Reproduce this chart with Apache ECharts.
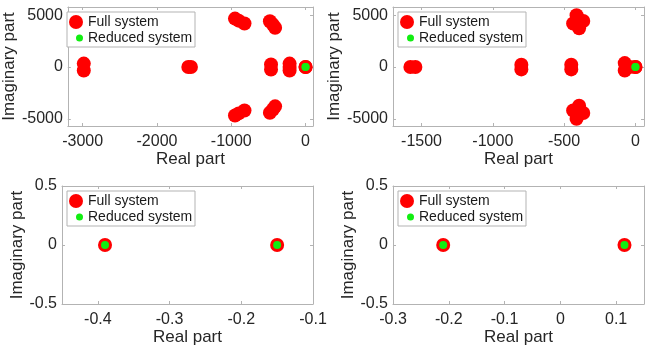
<!DOCTYPE html>
<html>
<head>
<meta charset="utf-8">
<script src="https://cdn.jsdelivr.net/npm/echarts@6/dist/echarts.min.js"></script>
<style>
html, body { margin: 0; padding: 0; background: #fff; }
#chart { width: 646px; height: 350px; }
</style>
</head>
<body>
<div id="chart"></div>
<script>
// poles, [real, imag]
var fullA = [
  [-2985, 330], [-2985, -330],
  [-1578, 0], [-1543, 0],
  [-950, 4680], [-900, 4480], [-822, 4200],
  [-950, -4680], [-900, -4480], [-822, -4200],
  [-480, 4420], [-440, 4100], [-410, 3800],
  [-480, -4420], [-440, -4100], [-410, -3800],
  [-465, 250], [-465, -250],
  [-215, 330], [-215, 0], [-215, -330],
  [-0.39, 0], [-0.15, 0]
];
var redA = [[-0.39, 0], [-0.15, 0]];

var fullB = [
  [-1578, 0], [-1543, 0],
  [-800, 230], [-800, -230],
  [-450, 230], [-450, -230],
  [-413, 5000], [-366, 4450], [-437, 4200], [-395, 3750],
  [-413, -5000], [-366, -4450], [-437, -4200], [-395, -3750],
  [-75, 380], [-75, -330], [-40, 0],
  [-0.21, 0], [0.115, 0]
];
var redB = [[-0.21, 0], [0.115, 0]];

var fullC = [[-0.39, 0], [-0.15, 0]];
var redC = [[-0.39, 0], [-0.15, 0]];

var fullD = [[-0.21, 0], [0.115, 0]];
var redD = [[-0.21, 0], [0.115, 0]];

var xTicksA = [-3000, -2000, -1000, 0];
var xTicksB = [-1500, -1000, -500, 0];
var xTicksC = [-0.4, -0.3, -0.2, -0.1];
var xTicksD = [-0.3, -0.2, -0.1, 0, 0.1];
var yTicksTop = [-5000, 0, 5000];
var yTicksBot = [-0.5, 0, 0.5];

var FONT = '"Liberation Sans", Arial, sans-serif';
var BOX = '#b3b3b3';
var TXT = '#262626';

function plain(v) { return String(v); }

var panels = [
  { left: 62,  top: 7,   height: 119, xr: [-3200, 100], yr: [-5700, 5800], xt: xTicksA, yt: yTicksTop, full: fullA, red: redA, gapY: 46 },
  { left: 393, top: 7,   height: 119, xr: [-1700, 60],  yr: [-5700, 5800], xt: xTicksB, yt: yTicksTop, full: fullB, red: redB, gapY: 48 },
  { left: 62,  top: 186, height: 118, xr: [-0.45, -0.1], yr: [-0.5, 0.5],  xt: xTicksC, yt: yTicksBot, full: fullC, red: redC, gapY: 35 },
  { left: 393, top: 186, height: 118, xr: [-0.3, 0.15], yr: [-0.5, 0.5],   xt: xTicksD, yt: yTicksBot, full: fullD, red: redD, gapY: 34 }
];

var grid = [], xAxis = [], yAxis = [], series = [], legend = [], graphic = [];

panels.forEach(function (p, i) {
  grid.push({ left: p.left, top: p.top, width: 251, height: p.height });

  var line = { show: true, onZero: false, lineStyle: { color: BOX, width: 1 } };
  var tickX = { show: true, inside: true, length: 3, customValues: p.xt, lineStyle: { color: BOX } };
  var tickY = { show: true, inside: true, length: 3, customValues: p.yt, lineStyle: { color: BOX } };

  xAxis.push({
    type: 'value', gridIndex: i, min: p.xr[0], max: p.xr[1],
    axisLine: line, axisTick: tickX, splitLine: { show: false },
    axisLabel: { customValues: p.xt, formatter: plain, margin: 8, color: TXT, fontSize: 16, fontFamily: FONT },
    name: 'Real part', nameLocation: 'middle', nameGap: 25,
    nameTextStyle: { color: TXT, fontSize: 17, fontFamily: FONT }
  });
  xAxis.push({
    type: 'value', gridIndex: i, position: 'top', min: p.xr[0], max: p.xr[1],
    axisLine: line, axisTick: tickX, splitLine: { show: false }, axisLabel: { show: false }
  });
  yAxis.push({
    type: 'value', gridIndex: i, min: p.yr[0], max: p.yr[1],
    axisLine: line, axisTick: tickY, splitLine: { show: false },
    axisLabel: { customValues: p.yt, formatter: plain, margin: 5, color: TXT, fontSize: 16, fontFamily: FONT },
    name: 'Imaginary part', nameLocation: 'middle', nameGap: p.gapY,
    nameTextStyle: { color: TXT, fontSize: 17, fontFamily: FONT }
  });
  yAxis.push({
    type: 'value', gridIndex: i, position: 'right', min: p.yr[0], max: p.yr[1],
    axisLine: line, axisTick: tickY, splitLine: { show: false }, axisLabel: { show: false }
  });

  series.push({
    type: 'scatter', name: 'Full system', xAxisIndex: 2 * i, yAxisIndex: 2 * i,
    data: p.full, symbol: 'circle', symbolSize: 14,
    itemStyle: { color: '#ff0000', opacity: 1 }
  });
  series.push({
    type: 'scatter', name: 'Reduced system', xAxisIndex: 2 * i, yAxisIndex: 2 * i,
    data: p.red, symbol: 'circle', symbolSize: 8,
    itemStyle: { color: '#11ee11', opacity: 1 }
  });

  graphic.push({
    type: 'rect', z: 1,
    shape: { x: p.left + 5, y: p.top + 5, width: 128, height: 35 },
    style: { fill: '#fff', stroke: BOX, lineWidth: 1 }
  });
  legend.push({
    left: p.left + 7, top: p.top + 8, padding: 0, itemWidth: 14, itemHeight: 14,
    data: [{ name: 'Full system', icon: 'circle' }], selectedMode: false,
    textStyle: { color: '#1a1a1a', fontSize: 14, fontFamily: FONT }
  });
  legend.push({
    left: p.left + 14, top: p.top + 24, padding: 0, itemWidth: 7, itemHeight: 7,
    data: [{ name: 'Reduced system', icon: 'circle' }], selectedMode: false,
    textStyle: { color: '#1a1a1a', fontSize: 14, fontFamily: FONT }
  });
});

var chart = echarts.init(document.getElementById('chart'));
chart.setOption({
  animation: false,
  backgroundColor: '#fff',
  grid: grid,
  xAxis: xAxis,
  yAxis: yAxis,
  legend: legend,
  graphic: graphic,
  series: series
});
</script>
</body>
</html>
